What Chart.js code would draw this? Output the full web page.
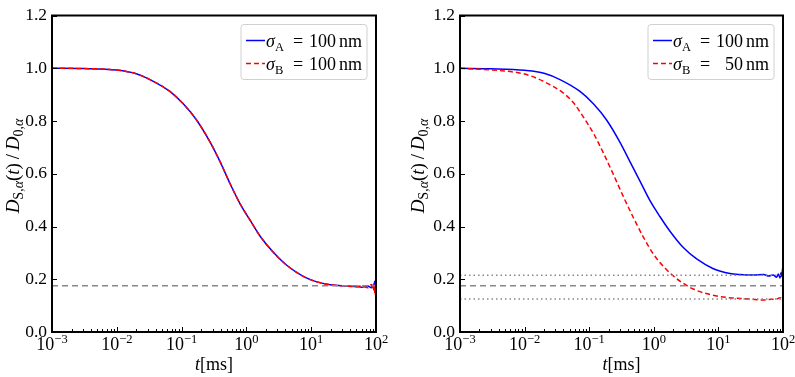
<!DOCTYPE html>
<html>
<head>
<meta charset="utf-8">
<script src="https://cdn.jsdelivr.net/npm/chart.js@4.4.0/dist/chart.umd.min.js"></script>
<style>
  body { margin: 0; background: #fff; }
  #wrap { position: relative; width: 795px; height: 377px; }
  canvas { position: absolute; top: 0; }
</style>
</head>
<body>
<div id="wrap">
  <canvas id="leftChart" width="400" height="377" style="left:0"></canvas>
  <canvas id="rightChart" width="395" height="377" style="left:400px"></canvas>
</div>
<script>
// axis ticks
const yTicks = [0, 0.2, 0.4, 0.6, 0.8, 1.0, 1.2];
const decades = [-3, -2, -1, 0, 1, 2];

// left panel: sigma_A = sigma_B = 100 nm
const tLeft = [0.001, 0.003, 0.01, 0.02, 0.0325, 0.066, 0.106, 0.171, 0.274, 0.392, 0.558, 0.796, 1.14, 1.62, 2.6, 4.19, 7.55, 12.2, 19.5, 35, 50, 60, 75, 85, 90, 93, 95, 97, 99, 100];
const leftA = [1.000, 0.999, 0.993, 0.979, 0.957, 0.912, 0.865, 0.803, 0.721, 0.646, 0.563, 0.487, 0.424, 0.364, 0.302, 0.253, 0.211, 0.190, 0.179, 0.174, 0.172, 0.170, 0.174, 0.168, 0.178, 0.160, 0.192, 0.150, 0.180, 0.100];
const leftB = [1.000, 0.999, 0.993, 0.979, 0.957, 0.912, 0.865, 0.803, 0.721, 0.646, 0.563, 0.487, 0.424, 0.364, 0.302, 0.253, 0.211, 0.190, 0.179, 0.174, 0.172, 0.175, 0.168, 0.180, 0.160, 0.185, 0.145, 0.175, 0.165, 0.120];

// right panel: sigma_A = 100 nm, sigma_B = 50 nm
const tRightA = [0.001, 0.003, 0.01, 0.02, 0.0353, 0.0721, 0.116, 0.187, 0.300, 0.429, 0.611, 0.873, 1.25, 1.78, 2.86, 4.61, 8.34, 15.1, 21.4, 35, 50, 60, 70, 80, 85, 90, 93, 96, 98, 100];
const rightA = [1.0, 0.998, 0.992, 0.981, 0.957, 0.912, 0.865, 0.803, 0.719, 0.645, 0.572, 0.498, 0.437, 0.382, 0.320, 0.277, 0.240, 0.222, 0.218, 0.216, 0.218, 0.212, 0.216, 0.208, 0.220, 0.205, 0.225, 0.210, 0.235, 0.250];
const tRightB = [0.001, 0.0042, 0.01, 0.019, 0.0398, 0.0568, 0.0813, 0.116, 0.165, 0.236, 0.337, 0.482, 0.689, 0.982, 1.58, 2.54, 4.08, 7.41, 13.4, 32, 50, 60, 70, 80, 90, 95, 98, 100];
const rightB = [1.0, 0.991, 0.978, 0.952, 0.906, 0.870, 0.815, 0.754, 0.680, 0.598, 0.514, 0.434, 0.360, 0.296, 0.236, 0.193, 0.163, 0.142, 0.131, 0.125, 0.121, 0.123, 0.124, 0.125, 0.13, 0.128, 0.118, 0.14];

// horizontal reference levels
const plateauMix = 0.175;
const plateauA = 0.215;
const plateauB = 0.125;

const SERIF = '"Liberation Serif", "DejaVu Serif", serif';

function pts(xs, ys) {
    return xs.map((x, i) => ({ x: x, y: ys[i] }));
}
function hline(y) {
    return [{ x: 1e-3, y: y }, { x: 1e2, y: y }];
}

// draw a run of text pieces [text, style, size, dy]
function drawRun(ctx, parts, x, y) {
    parts.forEach(p => {
        ctx.font = (p[1] || '') + ' ' + p[2] + 'px ' + SERIF;
        ctx.fillText(p[0], x, y + (p[3] || 0));
        x += ctx.measureText(p[0]).width;
    });
    return x;
}
function runWidth(ctx, parts) {
    let w = 0;
    parts.forEach(p => {
        ctx.font = (p[1] || '') + ' ' + p[2] + 'px ' + SERIF;
        w += ctx.measureText(p[0]).width;
    });
    return w;
}

const decorPlugin = {
    id: 'decor',
    afterDraw(chart, args, opts) {
        const ctx = chart.ctx;
        const a = chart.chartArea;
        const xs = chart.scales.x, ys = chart.scales.y;
        ctx.save();
        ctx.fillStyle = '#000';
        ctx.strokeStyle = '#000';

        // inward ticks
        ctx.lineWidth = 1;
        ctx.beginPath();
        decades.forEach(d => {
            const px = Math.round(xs.getPixelForValue(Math.pow(10, d))) + 0.5;
            ctx.moveTo(px, a.bottom); ctx.lineTo(px, a.bottom - 5);
            if (d < 2) {
                for (let m = 2; m < 10; m++) {
                    const q = Math.round(xs.getPixelForValue(m * Math.pow(10, d))) + 0.5;
                    ctx.moveTo(q, a.bottom); ctx.lineTo(q, a.bottom - 3);
                }
            }
        });
        yTicks.forEach(v => {
            const py = Math.round(ys.getPixelForValue(v)) + 0.5;
            ctx.moveTo(a.left, py); ctx.lineTo(a.left + 5, py);
        });
        ctx.stroke();

        // frame
        ctx.lineWidth = 2;
        ctx.strokeRect(a.left, a.top, a.right - a.left, a.bottom - a.top);

        // x tick labels 10^n
        ctx.textBaseline = 'alphabetic';
        ctx.textAlign = 'left';
        decades.forEach(d => {
            const parts = [['10', '', 18, 0], [d < 0 ? '\u2212' + (-d) : String(d), '', 12.5, -7]];
            const w = runWidth(ctx, parts);
            drawRun(ctx, parts, xs.getPixelForValue(Math.pow(10, d)) - w / 2, a.bottom + 18);
        });

        // x title
        const xt = [['t', 'italic', 18, 0], ['[ms]', '', 18, 0]];
        drawRun(ctx, xt, (a.left + a.right) / 2 - runWidth(ctx, xt) / 2, a.bottom + 38);

        // y title
        const yt = [['D', 'italic', 19, 0], ['S,', '', 14, 4], ['\u03b1', 'italic', 14, 4],
                    ['(', '', 19, 0], ['t', 'italic', 19, 0], [')', '', 19, 0], ['\u2009/\u2009', '', 19, 0],
                    ['D', 'italic', 19, 0], ['0,', '', 14, 4], ['\u03b1', 'italic', 14, 4]];
        ctx.save();
        ctx.translate(opts.yTitleX, 166);
        ctx.rotate(-Math.PI / 2);
        drawRun(ctx, yt, -runWidth(ctx, yt) / 2, 0);
        ctx.restore();

        // legend
        const bw = 126, bh = 55;
        const bx = a.right - 9 - bw, by = a.top + 9;
        ctx.beginPath();
        ctx.roundRect(bx, by, bw, bh, 3);
        ctx.fillStyle = 'rgba(255,255,255,0.8)';
        ctx.fill();
        ctx.strokeStyle = '#d0d0d0';
        ctx.lineWidth = 1;
        ctx.stroke();
        opts.legend.forEach((item, i) => {
            const cy = by + 16 + i * 23;
            ctx.strokeStyle = item.color;
            ctx.lineWidth = 1.5;
            ctx.setLineDash(item.dash);
            ctx.beginPath();
            ctx.moveTo(bx + 5, cy); ctx.lineTo(bx + 24, cy);
            ctx.stroke();
            ctx.setLineDash([]);
            ctx.fillStyle = '#000';
            drawRun(ctx, [['\u03c3', 'italic', 18, 0], [item.sub, '', 12.5, 4]], bx + 25, cy + 6);
            ctx.font = '18px ' + SERIF;
            ctx.textAlign = 'center';
            ctx.fillText('=', bx + 57, cy + 6);
            ctx.textAlign = 'right';
            ctx.fillText(item.value, bx + 95, cy + 6);
            ctx.textAlign = 'left';
            ctx.fillText('nm', bx + 98, cy + 6);
        });
        ctx.restore();
    }
};

function curve(data, color, dash, order) {
    return {
        data: data,
        order: order,
        borderColor: color,
        borderWidth: 1.5,
        borderDash: dash,
        pointRadius: 0,
        showLine: true,
        fill: false,
        cubicInterpolationMode: 'monotone'
    };
}
function refLine(y, dash, color) {
    return {
        data: hline(y),
        order: 0,
        borderColor: color,
        borderWidth: 1.5,
        borderDash: dash,
        pointRadius: 0,
        showLine: true,
        fill: false
    };
}

function makePanel(id, datasets, yWidth, padRight, yTitleX, legend) {
    new Chart(document.getElementById(id).getContext('2d'), {
        type: 'scatter',
        data: { datasets: datasets },
        options: {
            responsive: false,
            animation: false,
            events: [],
            layout: { padding: { top: 6, right: padRight, left: 0, bottom: 0 } },
            plugins: {
                legend: { display: false },
                tooltip: { enabled: false },
                decor: { yTitleX: yTitleX, legend: legend }
            },
            scales: {
                x: {
                    type: 'logarithmic',
                    min: 1e-3, max: 1e2,
                    grid: { display: false, drawTicks: false },
                    border: { display: false },
                    ticks: { display: false },
                    afterFit: s => { s.height = 45; }
                },
                y: {
                    min: 0, max: 1.2,
                    grid: { display: false, drawTicks: false },
                    border: { display: false },
                    afterBuildTicks: s => { s.ticks = yTicks.map(v => ({ value: v })); },
                    ticks: {
                        padding: 5,
                        color: '#000',
                        font: { family: SERIF, size: 17.5 },
                        callback: v => v.toFixed(1)
                    },
                    afterFit: s => { s.width = yWidth; }
                }
            }
        },
        plugins: [decorPlugin]
    });
}

makePanel('leftChart', [
    curve(pts(tLeft, leftA), '#0000ff', [], 2),
    curve(pts(tLeft, leftB), '#ff0000', [5, 3], 1),
    refLine(plateauMix, [6, 4], '#888888')
], 52, 24, 19, [
    { sub: 'A', value: '100', color: '#0000ff', dash: [] },
    { sub: 'B', value: '100', color: '#ff0000', dash: [5, 3] }
]);

makePanel('rightChart', [
    curve(pts(tRightA, rightA), '#0000ff', [], 2),
    curve(pts(tRightB, rightB), '#ff0000', [5, 3], 1),
    refLine(plateauMix, [6, 4], '#888888'),
    refLine(plateauA, [1.5, 3], '#888888'),
    refLine(plateauB, [1.5, 3], '#888888')
], 60, 12, 24, [
    { sub: 'A', value: '100', color: '#0000ff', dash: [] },
    { sub: 'B', value: '50', color: '#ff0000', dash: [5, 3] }
]);
</script>
</body>
</html>
